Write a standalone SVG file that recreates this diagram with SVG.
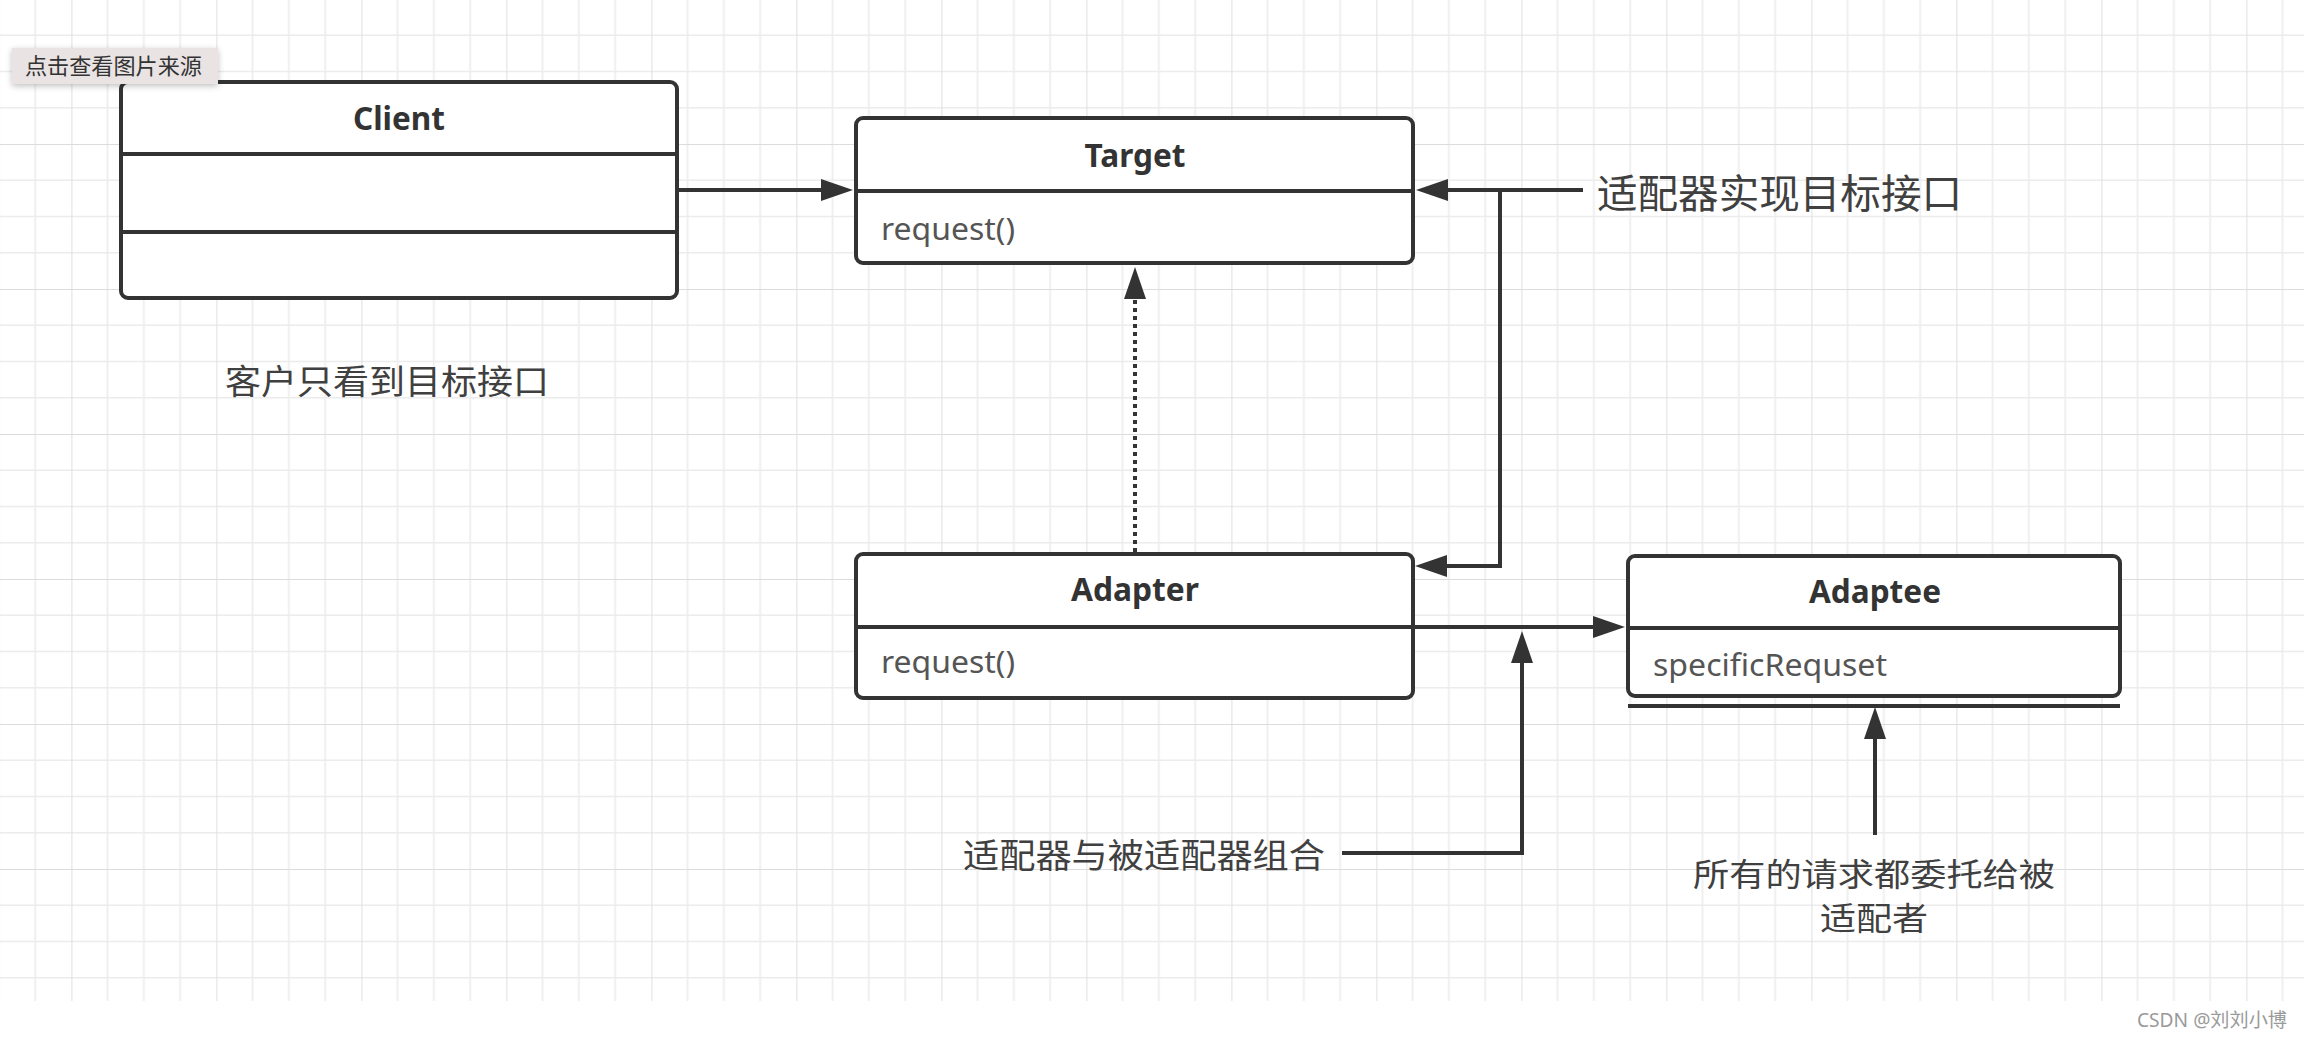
<svg xmlns="http://www.w3.org/2000/svg" width="2304" height="1040" viewBox="0 0 2304 1040">
<defs>
<pattern id="grid" x="71.4" y="-1" width="145" height="145" patternUnits="userSpaceOnUse">
<path d="M36.25 0V145M72.5 0V145M108.75 0V145M0 36.25H145M0 72.5H145M0 108.75H145" stroke="#ececec" stroke-width="1.6" fill="none"/>
<path d="M0 0V145M0 0H145" stroke="#dcdcdc" stroke-width="1.8" fill="none"/>
</pattern>
<marker id="arr" viewBox="0 0 32 22" refX="0" refY="11" markerWidth="32" markerHeight="22" markerUnits="userSpaceOnUse" orient="auto">
<path d="M0 0L32 11L0 22Z" fill="#333"/>
</marker>
<filter id="sh" x="-10%" y="-30%" width="120%" height="170%">
<feDropShadow dx="0" dy="2" stdDeviation="3" flood-color="#000" flood-opacity="0.25"/>
</filter>
<style>
.box{fill:#fff;stroke:#333;stroke-width:4}
.div{stroke:#333;stroke-width:4}
.ttl{font-family:"Noto Sans","Liberation Sans",sans-serif;font-weight:bold;font-size:32px;fill:#333;text-anchor:middle}
.mem{font-family:"Noto Sans","Liberation Sans",sans-serif;font-size:30px;fill:#555}
.cn{font-family:"Noto Sans CJK SC","Noto Sans",sans-serif;font-size:34px;fill:#404040}
.ln{fill:none;stroke:#333;stroke-width:4}
</style>
</defs>
<rect x="0" y="0" width="2304" height="1040" fill="#fff"/>
<rect x="0" y="0" width="2304" height="1001" fill="url(#grid)"/>

<g id="client">
<rect class="box" x="121" y="82" width="556" height="216" rx="7"/>
<line class="div" x1="121" y1="154" x2="677" y2="154"/>
<line class="div" x1="121" y1="232" x2="677" y2="232"/>
<text class="ttl" x="399" y="130" textLength="92" lengthAdjust="spacingAndGlyphs">Client</text>
</g>

<g id="target">
<rect class="box" x="856" y="118" width="557" height="145" rx="7"/>
<line class="div" x1="856" y1="191" x2="1413" y2="191"/>
<text class="ttl" x="1135" y="167" textLength="101" lengthAdjust="spacingAndGlyphs">Target</text>
<text class="mem" x="881" y="240" textLength="134" lengthAdjust="spacingAndGlyphs">request()</text>
</g>

<g id="adapter">
<rect class="box" x="856" y="554" width="557" height="144" rx="7"/>
<line class="div" x1="856" y1="627" x2="1413" y2="627"/>
<text class="ttl" x="1135" y="601" textLength="128" lengthAdjust="spacingAndGlyphs">Adapter</text>
<text class="mem" x="881" y="673" textLength="134" lengthAdjust="spacingAndGlyphs">request()</text>
</g>

<g id="adaptee">
<rect class="box" x="1628" y="556" width="492" height="140" rx="7"/>
<line class="div" x1="1628" y1="628" x2="2120" y2="628"/>
<line class="div" x1="1628" y1="706" x2="2120" y2="706"/>
<text class="ttl" x="1875" y="603" textLength="132" lengthAdjust="spacingAndGlyphs">Adaptee</text>
<text class="mem" x="1653" y="676" textLength="234" lengthAdjust="spacingAndGlyphs">specificRequset</text>
</g>

<g id="connectors">
<path class="ln" d="M677 190H821" marker-end="url(#arr)"/>
<path class="ln" d="M1583 190H1448" marker-end="url(#arr)"/>
<path class="ln" d="M1500 190V566H1447" marker-end="url(#arr)"/>
<path class="ln" d="M1135 552V299" stroke-dasharray="4 4" marker-end="url(#arr)"/>
<path class="ln" d="M1413 627H1593" marker-end="url(#arr)"/>
<path class="ln" d="M1342 853H1522V663" marker-end="url(#arr)"/>
<path class="ln" d="M1875 835V739" marker-end="url(#arr)"/>
</g>

<g id="labels">
<text class="cn" x="225" y="394" textLength="324" lengthAdjust="spacingAndGlyphs">客户只看到目标接口</text>
<text class="cn" x="1597" y="208" style="font-size:40px" textLength="365" lengthAdjust="spacingAndGlyphs">适配器实现目标接口</text>
<text class="cn" x="963" y="868" textLength="362" lengthAdjust="spacingAndGlyphs">适配器与被适配器组合</text>
<text class="cn" x="1693" y="886" style="font-size:32px" textLength="362" lengthAdjust="spacingAndGlyphs">所有的请求都委托给被</text>
<text class="cn" x="1820" y="930" style="font-size:32px" textLength="108" lengthAdjust="spacingAndGlyphs">适配者</text>
</g>

<g id="source-button">
<rect x="12" y="48" width="206" height="36" fill="#e9e3e3" filter="url(#sh)"/>
<text x="25" y="74" style="font-family:'Noto Sans CJK SC','Noto Sans',sans-serif;font-size:22px;fill:#333" textLength="177" lengthAdjust="spacingAndGlyphs">点击查看图片来源</text>
</g>
<text x="2137" y="1027" style="font-family:'Noto Sans','Noto Sans CJK SC',sans-serif;font-size:19px;fill:#9a9a9a" textLength="150" lengthAdjust="spacingAndGlyphs">CSDN @刘刘小博</text>
</svg>
